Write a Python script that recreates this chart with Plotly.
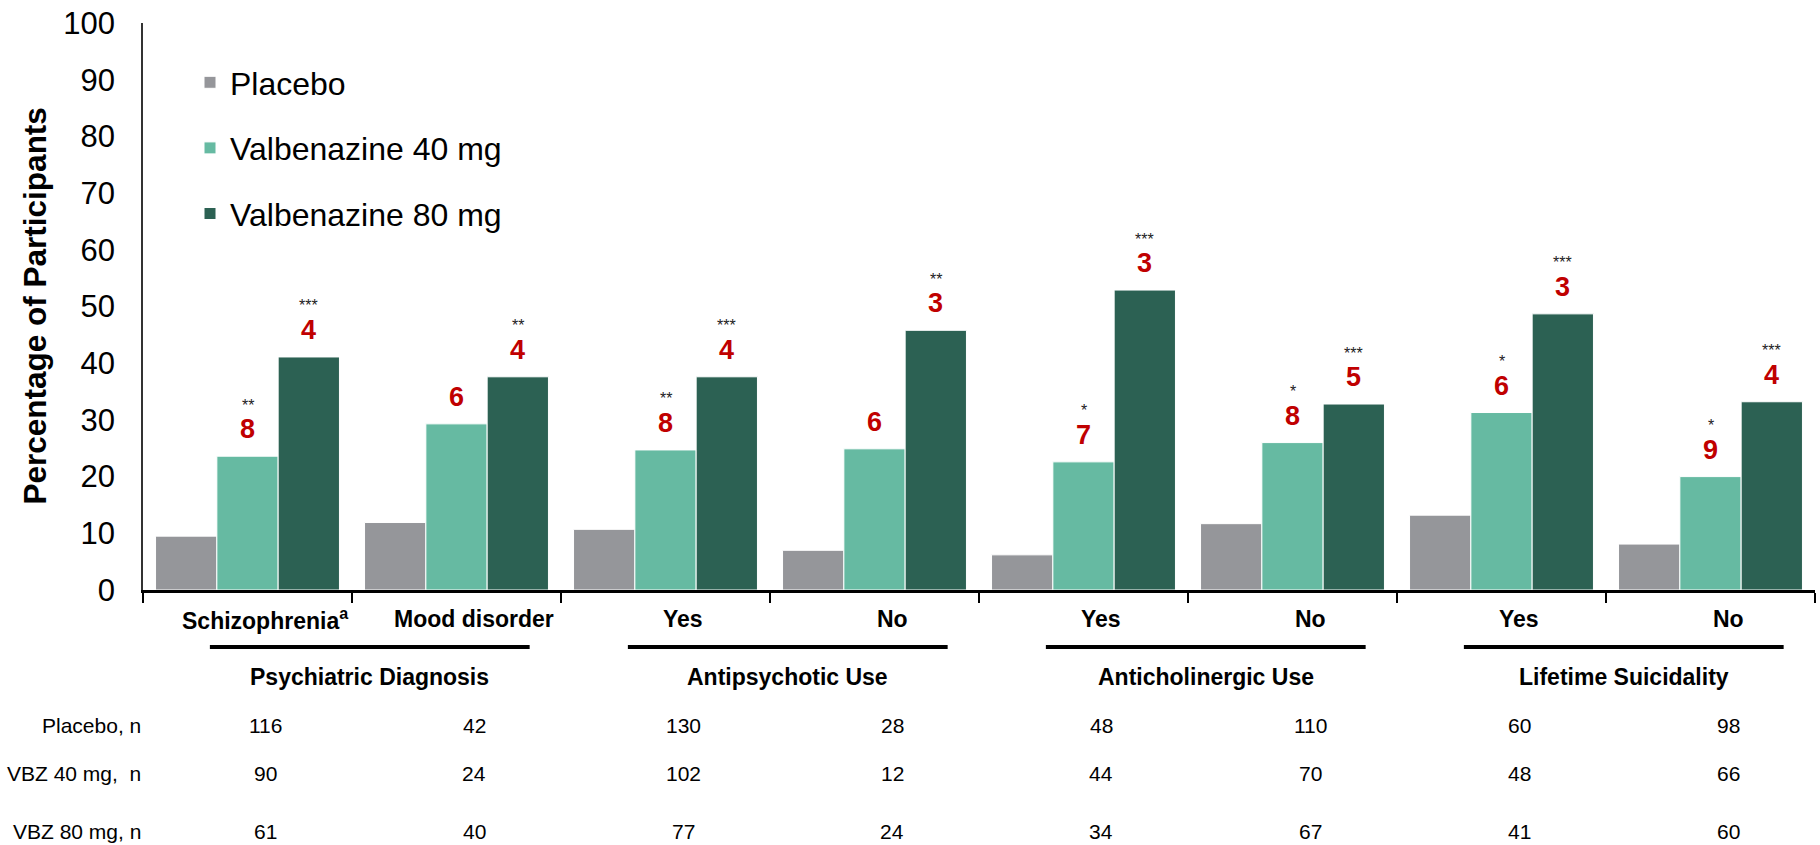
import plotly.graph_objects as go

# Subgroups along the x axis
categories = ["Schizophrenia<sup>a</sup>", "Mood disorder", "Yes", "No", "Yes", "No", "Yes", "No"]
group_titles = ["Psychiatric Diagnosis", "Antipsychotic Use", "Anticholinergic Use", "Lifetime Suicidality"]
group_spans = [(0, 1), (2, 3), (4, 5), (6, 7)]

# Percentage of participants per arm
placebo = [9.5, 11.9, 10.7, 7.0, 6.2, 11.7, 13.2, 8.1]
vbz40 = [23.6, 29.3, 24.7, 24.9, 22.6, 26.0, 31.3, 20.0]
vbz80 = [41.1, 37.6, 37.6, 45.8, 52.9, 32.8, 48.7, 33.2]

# Numbers above the active-arm bars and significance markers
vbz40_nums = ["8", "6", "8", "6", "7", "8", "6", "9"]
vbz40_stars = ["**", "", "**", "", "*", "*", "*", "*"]
vbz80_nums = ["4", "4", "4", "3", "3", "5", "3", "4"]
vbz80_stars = ["***", "**", "***", "**", "***", "***", "***", "***"]

# Sample sizes per subgroup
row_labels = ["Placebo, n", "VBZ 40 mg,\u00a0 n", "VBZ 80 mg, n"]
n_placebo = [116, 42, 130, 28, 48, 110, 60, 98]
n_vbz40 = [90, 24, 102, 12, 44, 70, 48, 66]
n_vbz80 = [61, 40, 77, 24, 34, 67, 41, 60]

y_ticks = list(range(0, 101, 10))

FONT = "Liberation Sans, Arial, sans-serif"
C_PLACEBO = "#95969A"
C_40 = "#66BAA2"
C_80 = "#2C6153"
C_RED = "#C00000"

W, H = 1820, 845
ML, MR, MT, MB = 143, 5, 23, 255
plot_h = H - MT - MB
x_idx = list(range(len(categories)))


def paper_y(px):
    """Convert a pixel row of the page into paper y."""
    return (H - MB - px) / plot_h


fig = go.Figure()
for name, vals, col, grp in [("Placebo", placebo, C_PLACEBO, "a"),
                             ("Valbenazine 40 mg", vbz40, C_40, "b"),
                             ("Valbenazine 80 mg", vbz80, C_80, "c")]:
    fig.add_trace(go.Bar(
        x=x_idx, y=vals, name=name, legendgroup=grp,
        marker=dict(color=col, line=dict(color="white", width=1)),
        hoverinfo="skip",
    ))

bargap = 0.12
bar_w = (1 - bargap) / 3

annotations = []
# value-linked labels over the 40 mg and 80 mg bars
for offs, vals, nums, stars in [(0.0, vbz40, vbz40_nums, vbz40_stars),
                                (bar_w, vbz80, vbz80_nums, vbz80_stars)]:
    for i, v in enumerate(vals):
        annotations.append(dict(
            x=i + offs, y=v, xref="x", yref="y", text="<b>%s</b>" % nums[i],
            showarrow=False, yanchor="middle", yshift=27,
            font=dict(family=FONT, size=27, color=C_RED)))
        if stars[i]:
            annotations.append(dict(
                x=i + offs, y=v, xref="x", yref="y", text=stars[i],
                showarrow=False, yanchor="middle", yshift=51,
                font=dict(family=FONT, size=16, color="#222222")))

# subgroup labels under the axis
lab_off = 0.085
for i, c in enumerate(categories):
    annotations.append(dict(
        x=i + lab_off, y=paper_y(619), xref="x", yref="paper", text="<b>%s</b>" % c,
        showarrow=False, yanchor="middle",
        font=dict(family=FONT, size=23, color="black")))

# group headings and rules
shapes = []
for (a, b), title in zip(group_spans, group_titles):
    x0, x1 = a - 0.18, b + 0.35
    shapes.append(dict(type="line", xref="x", yref="paper", x0=x0, x1=x1,
                       y0=paper_y(647), y1=paper_y(647),
                       line=dict(color="black", width=4)))
    annotations.append(dict(
        x=(x0 + x1) / 2, y=paper_y(677), xref="x", yref="paper",
        text="<b>%s</b>" % title, showarrow=False, yanchor="middle",
        font=dict(family=FONT, size=23, color="black")))

# sample size table
for label, row, py in zip(row_labels, [n_placebo, n_vbz40, n_vbz80], [725, 773, 832]):
    annotations.append(dict(
        x=0, y=paper_y(py), xref="paper", yref="paper", text=label,
        showarrow=False, xanchor="right", yanchor="middle",
        font=dict(family=FONT, size=21, color="black")))
    for i, n in enumerate(row):
        annotations.append(dict(
            x=i + lab_off, y=paper_y(py), xref="x", yref="paper", text=str(n),
            showarrow=False, yanchor="middle",
            font=dict(family=FONT, size=21, color="black")))

# y-axis title
annotations.append(dict(
    x=(34 - ML) / (W - ML - MR), y=0.5, xref="paper", yref="paper",
    text="<b>Percentage of Participants</b>", textangle=-90, showarrow=False,
    xanchor="center", yanchor="middle",
    font=dict(family=FONT, size=31.5, color="black")))

fig.update_layout(
    width=W, height=H,
    margin=dict(l=ML, r=MR, t=MT, b=MB),
    paper_bgcolor="white", plot_bgcolor="white",
    barmode="group", bargap=bargap, bargroupgap=0,
    font=dict(family=FONT, color="black"),
    showlegend=True,
    legend=dict(
        x=(190 - ML) / (W - ML - MR), y=paper_y(55), xanchor="left", yanchor="top",
        traceorder="grouped", tracegroupgap=21,
        font=dict(family=FONT, size=32, color="black"),
        bgcolor="rgba(0,0,0,0)",
    ),
    xaxis=dict(
        range=[-0.5, len(categories) - 0.5],
        tickmode="array", tickvals=[i - 0.5 for i in range(len(categories) + 1)],
        showticklabels=False, ticks="outside", ticklen=10, tickwidth=1.5,
        tickcolor="black", showline=True, linecolor="black", linewidth=2.5,
        showgrid=False, zeroline=False, fixedrange=True,
    ),
    yaxis=dict(
        range=[0, 100], tickmode="array", tickvals=y_ticks,
        ticks="", ticklabelstandoff=20, showline=True, linecolor="#333333",
        linewidth=1.5, showgrid=False, zeroline=False,
        tickfont=dict(family=FONT, size=31, color="black"), fixedrange=True,
    ),
    annotations=annotations,
    shapes=shapes,
)

fig.write_html("out.html")
